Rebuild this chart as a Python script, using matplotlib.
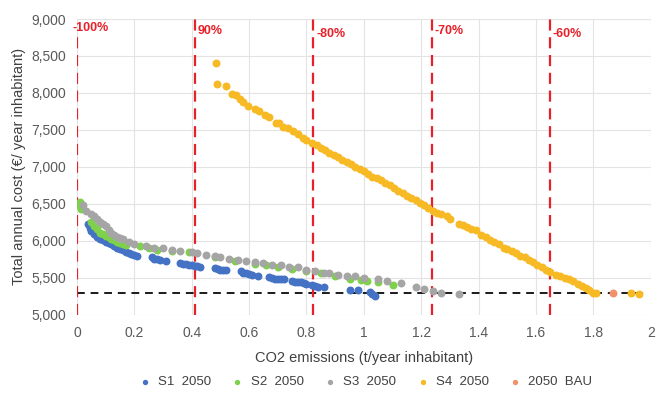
import matplotlib.pyplot as plt

# data
s1_x = [0.04, 0.045, 0.05, 0.06, 0.07, 0.08, 0.09, 0.10, 0.11, 0.12, 0.13, 0.14, 0.15, 0.16, 0.17, 0.18, 0.19, 0.20, 0.21,
        0.26, 0.27, 0.28, 0.29, 0.31,
        0.36, 0.37, 0.38, 0.39, 0.40, 0.41, 0.42, 0.43,
        0.48, 0.49, 0.50, 0.51, 0.52,
        0.57, 0.58, 0.59, 0.60, 0.61, 0.63,
        0.67, 0.68, 0.69, 0.70, 0.71, 0.72,
        0.75, 0.76, 0.77, 0.78, 0.79, 0.80,
        0.82, 0.83, 0.84, 0.86,
        0.95, 0.98, 1.02, 1.03, 1.04]
s1_y = [6230, 6180, 6130, 6090, 6050, 6030, 6010, 5990, 5970, 5960, 5930, 5910, 5890, 5870, 5850, 5830, 5820, 5810, 5800,
        5780, 5760, 5750, 5740, 5730,
        5700, 5690, 5690, 5680, 5670, 5660, 5660, 5650,
        5630, 5620, 5610, 5600, 5600,
        5590, 5570, 5560, 5550, 5540, 5530,
        5510, 5500, 5490, 5490, 5480, 5480,
        5460, 5450, 5440, 5440, 5430, 5420,
        5400, 5390, 5380, 5370,
        5330, 5330, 5310, 5280, 5260]

s2_x = [0.01, 0.012, 0.015, 0.05, 0.06, 0.07, 0.08, 0.09, 0.10, 0.11, 0.12, 0.13, 0.14, 0.15, 0.16, 0.17,
        0.22, 0.25, 0.28, 0.33, 0.39, 0.48, 0.55, 0.62, 0.66, 0.70, 0.75, 0.80, 0.85, 0.90, 0.95,
        0.99, 1.01, 1.05, 1.10]
s2_y = [6520, 6470, 6430, 6250, 6200, 6160, 6110, 6090, 6070, 6050, 6030, 6010, 5990, 5970, 5960, 5940,
        5930, 5910, 5880, 5860, 5850, 5780, 5730, 5690, 5680, 5650, 5620, 5590, 5560, 5520, 5490,
        5470, 5460, 5450, 5400]

s3_x = [0.02, 0.03, 0.05, 0.06, 0.07, 0.08, 0.09, 0.10, 0.11, 0.12, 0.13, 0.14, 0.15, 0.16, 0.18, 0.20,
        0.24, 0.27, 0.30, 0.33, 0.36, 0.40, 0.42, 0.45, 0.48, 0.50, 0.53, 0.56, 0.59, 0.62, 0.65, 0.68,
        0.71, 0.74, 0.77, 0.80, 0.83, 0.86, 0.88, 0.91, 0.94, 0.97, 1.00, 1.05, 1.08, 1.13,
        1.18, 1.21, 1.24, 1.27, 1.33]
s3_y = [6480, 6400, 6360, 6330, 6300, 6260, 6230, 6200, 6150, 6100, 6080, 6050, 6040, 6020, 5990, 5960,
        5930, 5910, 5900, 5880, 5860, 5850, 5830, 5810, 5790, 5780, 5760, 5740, 5730, 5710, 5700, 5680,
        5670, 5650, 5640, 5610, 5590, 5570, 5560, 5540, 5530, 5520, 5500, 5480, 5460, 5430,
        5380, 5350, 5320, 5300, 5280]

s4_x = [0.484, 0.487, 0.52, 0.54, 0.555, 0.568, 0.58, 0.596, 0.62, 0.635, 0.655, 0.67, 0.693, 0.705,
        0.718, 0.735, 0.753, 0.77, 0.787, 0.80, 0.819, 0.835, 0.85, 0.865, 0.88, 0.895, 0.91, 0.925,
        0.94, 0.955, 0.97, 0.985,
        1.00, 1.015, 1.03, 1.045, 1.06, 1.075, 1.09, 1.105, 1.12, 1.135, 1.15, 1.165, 1.18, 1.195,
        1.21, 1.225, 1.24, 1.255, 1.27, 1.29, 1.30, 1.33, 1.345, 1.36, 1.375, 1.39, 1.41, 1.425,
        1.44, 1.455, 1.47, 1.49, 1.50, 1.515, 1.53, 1.545, 1.56, 1.575, 1.59, 1.605, 1.62, 1.635,
        1.65, 1.67, 1.685, 1.70, 1.715, 1.73, 1.745, 1.76, 1.775, 1.785, 1.80, 1.81, 1.93, 1.96]
s4_y = [8410, 8120, 8090, 7990, 7970, 7915, 7880, 7820, 7780, 7750, 7700, 7680, 7600, 7590,
        7540, 7520, 7480, 7440, 7390, 7360, 7330, 7290, 7260, 7230, 7190, 7160, 7130, 7100,
        7070, 7040, 7000, 6970,
        6940, 6900, 6870, 6850, 6820, 6780, 6750, 6710, 6680, 6650, 6610, 6580, 6550, 6510,
        6480, 6440, 6410, 6380, 6360, 6330, 6300, 6230, 6210, 6190, 6160, 6150, 6080, 6050,
        6010, 5980, 5960, 5910, 5890, 5860, 5830, 5800, 5780, 5740, 5710, 5680, 5650, 5610,
        5580, 5540, 5520, 5500, 5490, 5460, 5420, 5390, 5360, 5330, 5300, 5300, 5290, 5280]

bau_x = [1.87]
bau_y = [5300]

# reduction lines and labels
red_x = [0.0, 0.412, 0.824, 1.236, 1.648]
red_labels = ['-100%', '90%', '-80%', '-70%', '-60%']
red_label_y = [8880, 8840, 8800, 8840, 8800]
bau_cost = 5290

plt.rcParams['font.family'] = ['Liberation Sans Narrow', 'Liberation Sans', 'DejaVu Sans']

fig, ax = plt.subplots(figsize=(6.58, 3.96), dpi=100)
fig.subplots_adjust(left=0.117, right=0.989, top=0.952, bottom=0.205)

ax.set_xlim(0, 2)
ax.set_ylim(5000, 9000)
ax.set_xticks([0, 0.2, 0.4, 0.6, 0.8, 1, 1.2, 1.4, 1.6, 1.8, 2])
ax.set_xticklabels(['0', '0.2', '0.4', '0.6', '0.8', '1', '1.2', '1.4', '1.6', '1.8', '2'])
ax.set_yticks(range(5000, 9001, 500))
ax.set_yticklabels([f'{v:,}' for v in range(5000, 9001, 500)])
ax.grid(color='#e3e3e3', linewidth=0.8)
ax.set_axisbelow(True)
for s in ax.spines.values():
    s.set_visible(False)
ax.tick_params(length=0, labelsize=10, colors='#595959', pad=8)

ax.set_xlabel('CO2 emissions (t/year inhabitant)', fontsize=10.5, color='#404040', labelpad=8)
ax.set_ylabel('Total annual cost (€/ year inhabitant)', fontsize=10.5, color='#404040', labelpad=4)

# red dashed reduction lines
for x, lab, ly in zip(red_x, red_labels, red_label_y):
    top = 8760 if lab == '-100%' else 9000
    ax.vlines(x, 5000, top, colors='#e8202a', linestyles=(0, (5, 3)), linewidth=1.6, zorder=3)
    dx = -0.015 if lab == '-100%' else 0.01
    ax.text(x + dx, ly, lab, color='#e8202a', fontsize=9, fontweight='bold', va='center', ha='left', zorder=4)

# black dashed BAU cost line
ax.hlines(bau_cost, 0, 1.99, colors='#1a1a1a', linestyles=(0, (4, 3)), linewidth=1.4, zorder=2)

ms = 22
ax.scatter(s1_x, s1_y, s=ms, color='#4472c4', label='S1  2050', zorder=5)
ax.scatter(s2_x, s2_y, s=ms, color='#7ed14a', label='S2  2050', zorder=5)
ax.scatter(s3_x, s3_y, s=ms, color='#a5a5a5', label='S3  2050', zorder=5)
ax.scatter(s4_x, s4_y, s=ms, color='#f7b924', label='S4  2050', zorder=5)
ax.scatter(bau_x, bau_y, s=ms, color='#f0916a', label='2050  BAU', zorder=5)

fig.legend(loc='center', bbox_to_anchor=(0.55, 14 / 396), ncol=5, frameon=False, fontsize=9.5,
           markerscale=0.6, handletextpad=0.0, columnspacing=1.0, labelcolor='#404040',
           borderaxespad=0, borderpad=0)

fig.savefig('out.png', dpi=100)
